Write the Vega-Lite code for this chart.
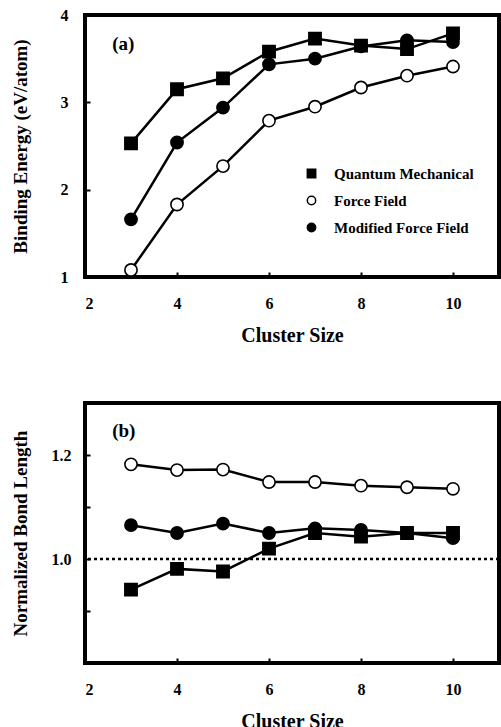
{
  "$schema": "https://vega.github.io/schema/vega-lite/v6.json",
  "background": "white",
  "padding": {"left": 9, "top": 5, "right": 0, "bottom": 0},
  "spacing": 54,
  "datasets": {
    "d": [
      {"n": 3, "series": "Quantum Mechanical", "energy": 2.53, "bond": 0.941},
      {"n": 4, "series": "Quantum Mechanical", "energy": 3.15, "bond": 0.981},
      {"n": 5, "series": "Quantum Mechanical", "energy": 3.275, "bond": 0.976},
      {"n": 6, "series": "Quantum Mechanical", "energy": 3.58, "bond": 1.02},
      {"n": 7, "series": "Quantum Mechanical", "energy": 3.73, "bond": 1.05},
      {"n": 8, "series": "Quantum Mechanical", "energy": 3.65, "bond": 1.043},
      {"n": 9, "series": "Quantum Mechanical", "energy": 3.61, "bond": 1.05},
      {"n": 10, "series": "Quantum Mechanical", "energy": 3.79, "bond": 1.05},
      {"n": 3, "series": "Force Field", "energy": 1.08, "bond": 1.182},
      {"n": 4, "series": "Force Field", "energy": 1.83, "bond": 1.171},
      {"n": 5, "series": "Force Field", "energy": 2.27, "bond": 1.172},
      {"n": 6, "series": "Force Field", "energy": 2.79, "bond": 1.148},
      {"n": 7, "series": "Force Field", "energy": 2.95, "bond": 1.148},
      {"n": 8, "series": "Force Field", "energy": 3.17, "bond": 1.141},
      {"n": 9, "series": "Force Field", "energy": 3.305, "bond": 1.138},
      {"n": 10, "series": "Force Field", "energy": 3.41, "bond": 1.135},
      {"n": 3, "series": "Modified Force Field", "energy": 1.66, "bond": 1.065},
      {"n": 4, "series": "Modified Force Field", "energy": 2.54, "bond": 1.05},
      {"n": 5, "series": "Modified Force Field", "energy": 2.94, "bond": 1.068},
      {"n": 6, "series": "Modified Force Field", "energy": 3.435, "bond": 1.05},
      {"n": 7, "series": "Modified Force Field", "energy": 3.5, "bond": 1.059},
      {"n": 8, "series": "Modified Force Field", "energy": 3.64, "bond": 1.056},
      {"n": 9, "series": "Modified Force Field", "energy": 3.71, "bond": 1.05},
      {"n": 10, "series": "Modified Force Field", "energy": 3.69, "bond": 1.04}
    ]
  },
  "resolve": {"scale": {"shape": "independent", "fill": "independent"}, "legend": {"shape": "independent", "fill": "independent"}},
  "vconcat": [
    {
      "width": 414,
      "height": 262,
      "layer": [
        {
          "data": {"name": "d"},
          "mark": {"type": "line", "color": "black", "strokeWidth": 2.5},
          "encoding": {
            "x": {"field": "n", "type": "quantitative", "scale": {"domain": [2, 11], "nice": false}, "axis": {"values": [2, 4, 6, 8, 10], "title": "Cluster Size"}},
            "y": {"field": "energy", "type": "quantitative", "scale": {"domain": [1, 4], "nice": false, "zero": false}, "axis": {"values": [1, 2, 3, 4], "format": "d", "title": "Binding Energy (eV/atom)", "titlePadding": 30, "labelPadding": 22}},
            "detail": {"field": "series"}
          }
        },
        {
          "data": {"name": "d"},
          "mark": {"type": "point", "stroke": "black", "strokeWidth": 1.6, "size": 150, "opacity": 1, "filled": false},
          "encoding": {
            "x": {"field": "n", "type": "quantitative"},
            "y": {"field": "energy", "type": "quantitative"},
            "shape": {"field": "series", "type": "nominal", "scale": {"domain": ["Quantum Mechanical", "Force Field", "Modified Force Field"], "range": ["square", "circle", "circle"]}, "legend": {"title": null, "orient": "none", "legendX": 219, "legendY": 151, "padding": 0, "symbolSize": 70, "labelFont": "Liberation Serif", "labelFontWeight": "bold", "labelFontSize": 15, "labelColor": "black", "labelOffset": 15, "rowPadding": 11, "symbolOpacity": 1, "encode": {"symbols": {"update": {"stroke": {"value": "black"}, "strokeWidth": {"value": 1.5}}}}}},
            "fill": {"field": "series", "type": "nominal", "scale": {"domain": ["Quantum Mechanical", "Force Field", "Modified Force Field"], "range": ["black", "white", "black"]}, "legend": {"title": null, "orient": "none", "legendX": 219, "legendY": 151, "padding": 0, "symbolSize": 70, "labelFont": "Liberation Serif", "labelFontWeight": "bold", "labelFontSize": 15, "labelColor": "black", "labelOffset": 15, "rowPadding": 11, "symbolOpacity": 1, "encode": {"symbols": {"update": {"stroke": {"value": "black"}, "strokeWidth": {"value": 1.5}}}}}}
          }
        },
        {
          "data": {"values": [{"label": "(a)"}]},
          "mark": {"type": "text", "font": "Liberation Serif", "fontWeight": "bold", "fontSize": 19, "color": "black", "align": "left", "baseline": "middle"},
          "encoding": {
            "text": {"field": "label"},
            "x": {"datum": 2.59, "type": "quantitative"},
            "y": {"datum": 3.67, "type": "quantitative"}
          }
        }
      ]
    },
    {
      "width": 414,
      "height": 260,
      "layer": [
        {
          "data": {"values": [{"ref": 1.0}]},
          "mark": {"type": "rule", "color": "black", "strokeWidth": 2.5, "strokeDash": [3, 3]},
          "encoding": {"y": {"field": "ref", "type": "quantitative", "scale": {"domain": [0.8, 1.3], "nice": false, "zero": false}}}
        },
        {
          "data": {"name": "d"},
          "mark": {"type": "line", "color": "black", "strokeWidth": 2.5},
          "encoding": {
            "x": {"field": "n", "type": "quantitative", "scale": {"domain": [2, 11], "nice": false}, "axis": {"values": [2, 4, 6, 8, 10], "title": "Cluster Size"}},
            "y": {"field": "bond", "type": "quantitative", "axis": {"values": [0.9, 1.0, 1.1, 1.2], "title": "Normalized Bond Length", "titlePadding": 21, "labelPadding": 19, "labelExpr": "(abs(datum.value-1.0)<0.001 || abs(datum.value-1.2)<0.001) ? format(datum.value, '.1f') : ''"}},
            "detail": {"field": "series"}
          }
        },
        {
          "data": {"name": "d"},
          "mark": {"type": "point", "stroke": "black", "strokeWidth": 1.6, "size": 150, "opacity": 1, "filled": false},
          "encoding": {
            "x": {"field": "n", "type": "quantitative"},
            "y": {"field": "bond", "type": "quantitative"},
            "shape": {"field": "series", "type": "nominal", "scale": {"domain": ["Quantum Mechanical", "Force Field", "Modified Force Field"], "range": ["square", "circle", "circle"]}, "legend": null},
            "fill": {"field": "series", "type": "nominal", "scale": {"domain": ["Quantum Mechanical", "Force Field", "Modified Force Field"], "range": ["black", "white", "black"]}, "legend": null}
          }
        },
        {
          "data": {"values": [{"label": "(b)"}]},
          "mark": {"type": "text", "font": "Liberation Serif", "fontWeight": "bold", "fontSize": 19, "color": "black", "align": "left", "baseline": "middle"},
          "encoding": {
            "text": {"field": "label"},
            "x": {"datum": 2.59, "type": "quantitative"},
            "y": {"datum": 1.2466, "type": "quantitative"}
          }
        }
      ]
    }
  ],
  "config": {
    "view": {"stroke": "black", "strokeWidth": 4},
    "axis": {
      "domain": false,
      "grid": false,
      "ticks": true,
      "tickColor": "black",
      "tickSize": -5,
      "tickWidth": 2,
      "labelFont": "Liberation Serif",
      "labelFontWeight": "bold",
      "labelFontSize": 16,
      "labelColor": "black",
      "titleFont": "Liberation Serif",
      "titleFontWeight": "bold",
      "titleFontSize": 19,
      "titleColor": "black"
    },
    "axisX": {"labelPadding": 23, "titlePadding": 14, "titleFontSize": 20}
  }
}
